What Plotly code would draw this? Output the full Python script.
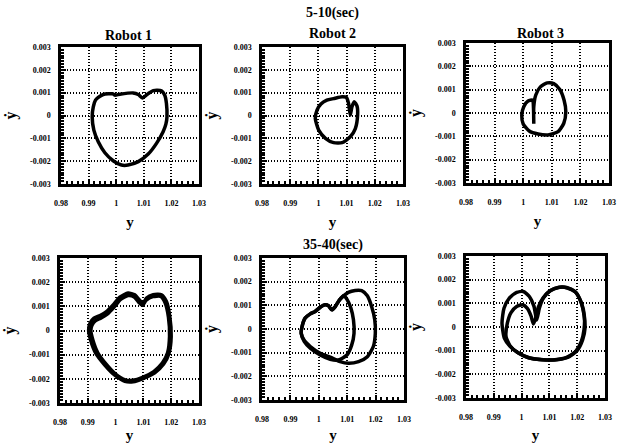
import plotly.graph_objects as go

# ---------------- data ----------------
x_tick_vals = [0.98, 0.99, 1.0, 1.01, 1.02, 1.03]
x_tick_text = ["0.98", "0.99", "1", "1.01", "1.02", "1.03"]
y_tick_vals = [-0.003, -0.002, -0.001, 0.0, 0.001, 0.002, 0.003]
y_tick_text = ["-0.003", "-0.002", "-0.001", "0", "0.001", "0.002", "0.003"]

# Robot 1, 5-10 sec
r1a_x = [0.9935, 0.9953, 0.9989, 0.9995, 1.0013, 1.0061, 1.0080, 1.0095, 1.0116, 1.0134, 1.0164,
         1.0176, 1.0182, 1.0184, 1.0180, 1.0170, 1.0146, 1.0116, 1.0080, 1.0043, 1.0019, 0.9989,
         0.9959, 0.9935, 0.9919, 0.9913, 0.9917, 0.9925, 0.9935]
r1a_y = [0.00079, 0.00092, 0.00095, 0.00089, 0.00093, 0.00099, 0.00092, 0.00077, 0.00096, 0.00109, 0.00108,
         0.00089, 0.00053, -0.00006, -0.00038, -0.00071, -0.00122, -0.00169, -0.00202, -0.00217, -0.00217, -0.00198,
         -0.00163, -0.00115, -0.00064, -0.00006, 0.00038, 0.00067, 0.00079]

# Robot 2, 5-10 sec
r2a_x = [0.9989, 0.9995, 1.0009, 1.0030, 1.0054, 1.0084, 1.0099, 1.0107, 1.0113, 1.0119, 1.0127,
         1.0137, 1.0139, 1.0131, 1.0113, 1.0084, 1.0054, 1.0025, 1.0001, 0.9989]
r2a_y = [-0.00013, 0.00023, 0.00050, 0.00067, 0.00074, 0.00082, 0.00079, 0.00053, 0.00002, 0.00038, 0.00060,
         0.00041, 0.00002, -0.00057, -0.00093, -0.00119, -0.00119, -0.00100, -0.00064, -0.00013]

# Robot 3, 5-10 sec
r3a_x = [1.0037, 1.0037, 1.0044, 1.0060, 1.0084, 1.0107, 1.0128, 1.0143, 1.0149, 1.0142, 1.0122,
         1.0087, 1.0052, 1.0021, 1.0000, 0.9995, 1.0002, 1.0017, 1.0033, 1.0036, 1.0037]
r3a_y = [-0.00044, 0.00027, 0.00077, 0.00112, 0.00129, 0.00126, 0.00101, 0.00055, 0.00006, -0.00044, -0.00080,
         -0.00094, -0.00090, -0.00077, -0.00047, -0.00009, 0.00027, 0.00051, 0.00055, 0.00020, -0.00046]

# Robot 1, 35-40 sec (two cycles)
r1b1_x = [0.9908, 0.9922, 0.9944, 0.9967, 0.9991, 1.0015, 1.0045, 1.0069, 1.0085, 1.0099, 1.0111, 1.0135,
          1.0165, 1.0183, 1.0195, 1.0200, 1.0192, 1.0173, 1.0141, 1.0099, 1.0063, 1.0033, 0.9997, 0.9961,
          0.9929, 0.9910, 0.9903, 0.9908]
r1b1_y = [0.00030, 0.00051, 0.00062, 0.00078, 0.00106, 0.00138, 0.00155, 0.00148, 0.00127, 0.00113, 0.00134, 0.00148,
          0.00148, 0.00120, 0.00058, -0.00025, -0.00095, -0.00139, -0.00175, -0.00199, -0.00212, -0.00210, -0.00185, -0.00143,
          -0.00095, -0.00039, 0.00002, 0.00030]
r1b2_x = [0.9915, 0.9928, 0.9948, 0.9970, 0.9994, 1.0017, 1.0045, 1.0067, 1.0082, 1.0097, 1.0110, 1.0134,
          1.0162, 1.0178, 1.0190, 1.0194, 1.0187, 1.0168, 1.0137, 1.0097, 1.0062, 1.0035, 1.0000, 0.9966,
          0.9936, 0.9918, 0.9911, 0.9915]
r1b2_y = [0.00022, 0.00041, 0.00052, 0.00068, 0.00096, 0.00128, 0.00145, 0.00139, 0.00118, 0.00104, 0.00125, 0.00140,
          0.00141, 0.00115, 0.00056, -0.00024, -0.00092, -0.00135, -0.00170, -0.00194, -0.00206, -0.00204, -0.00180, -0.00139,
          -0.00092, -0.00038, 0.00000, 0.00022]

# Robot 2, 35-40 sec (two cycles)
r2b1_x = [0.9938, 0.9941, 0.9952, 0.9970, 0.9987, 1.0005, 1.0022, 1.0034, 1.0046, 1.0058, 1.0073, 1.0087,
          1.0104, 1.0128, 1.0151, 1.0171, 1.0186, 1.0197, 1.0199, 1.0192, 1.0171, 1.0140, 1.0104, 1.0075,
          1.0040, 1.0005, 0.9970, 0.9949, 0.9938]
r2b1_y = [-0.00018, 0.00010, 0.00046, 0.00064, 0.00074, 0.00092, 0.00102, 0.00098, 0.00081, 0.00095, 0.00123, 0.00140,
          0.00155, 0.00163, 0.00162, 0.00140, 0.00095, 0.00039, -0.00018, -0.00074, -0.00117, -0.00138, -0.00145, -0.00138,
          -0.00119, -0.00103, -0.00074, -0.00049, -0.00018]
r2b2_x = [0.9938, 0.9941, 0.9952, 0.9970, 0.9987, 1.0005, 1.0022, 1.0034, 1.0046, 1.0058, 1.0073, 1.0087,
          1.0099, 1.0113, 1.0122, 1.0124, 1.0116, 1.0099, 1.0069, 1.0040, 1.0005, 0.9970, 0.9949, 0.9938]
r2b2_y = [-0.00018, 0.00010, 0.00046, 0.00064, 0.00074, 0.00092, 0.00102, 0.00098, 0.00081, 0.00095, 0.00123, 0.00140,
          0.00126, 0.00088, 0.00039, -0.00018, -0.00067, -0.00110, -0.00131, -0.00128, -0.00110, -0.00081, -0.00053, -0.00018]

# Robot 3, 35-40 sec (two cycles)
r3b1_x = [0.99379, 0.99295, 0.99367, 0.99559, 0.99823, 1.00062, 1.00278, 1.00446, 1.00542, 1.00638, 1.00782,
          1.01022, 1.01321, 1.01621, 1.01921, 1.02125, 1.02245, 1.02281, 1.02197, 1.02005, 1.01681, 1.01261,
          1.00782, 1.00302, 0.99882, 0.99583, 0.99379]
r3b1_y = [-0.00047, 0.00016, 0.00079, 0.00122, 0.00146, 0.00150, 0.00129, 0.00087, 0.00030, 0.00079, 0.00122,
          0.00153, 0.00167, 0.00167, 0.00150, 0.00108, 0.00051, -0.00005, -0.00054, -0.00099, -0.00127, -0.00138,
          -0.00138, -0.00131, -0.00110, -0.00082, -0.00047]
r3b2_x = [0.99439, 0.99487, 0.99619, 0.99823, 1.00038, 1.00206, 1.00338, 1.00422, 1.00494, 1.00602, 1.00782,
          1.01046, 1.01357, 1.01645, 1.01945, 1.02149, 1.02257, 1.02245, 1.02149, 1.01945, 1.01621, 1.01201,
          1.00722, 1.00242, 0.99847, 0.99583, 0.99439]
r3b2_y = [-0.00040, 0.00016, 0.00061, 0.00087, 0.00094, 0.00079, 0.00047, 0.00013, 0.00033, 0.00084, 0.00124,
          0.00154, 0.00168, 0.00165, 0.00147, 0.00103, 0.00047, -0.00012, -0.00061, -0.00103, -0.00128, -0.00138,
          -0.00138, -0.00130, -0.00107, -0.00079, -0.00040]

panel_titles = ["Robot 1", "Robot 2", "Robot 3"]
period_titles = ["5-10(sec)", "35-40(sec)"]

# ---------------- figure ----------------
W, H = 620, 443
# pixel boxes (left, right, top, bottom)
boxes = [(61, 199, 47, 184), (262, 403, 47, 184), (466, 609, 43, 183),
         (60, 199, 258, 403), (262, 404, 258, 400), (466, 605, 256, 398)]

panels = [
    [(r1a_x, r1a_y)],
    [(r2a_x, r2a_y)],
    [(r3a_x, r3a_y)],
    [(r1b1_x, r1b1_y), (r1b2_x, r1b2_y)],
    [(r2b1_x, r2b1_y), (r2b2_x, r2b2_y)],
    [(r3b1_x, r3b1_y), (r3b2_x, r3b2_y)],
]

FONT = "Liberation Serif"
fig = go.Figure()
layout = dict(
    width=W, height=H, margin=dict(l=0, r=0, t=0, b=0, autoexpand=False),
    paper_bgcolor="white", plot_bgcolor="white", showlegend=False,
    font=dict(family=FONT, color="black"),
)

for i, (box, curves) in enumerate(zip(boxes, panels)):
    n = i + 1
    xa = "x" if n == 1 else f"x{n}"
    ya = "y" if n == 1 else f"y{n}"
    for cx, cy in curves:
        fig.add_trace(go.Scatter(x=cx, y=cy, mode="lines", xaxis=xa, yaxis=ya,
                                 line=dict(color="black", width=3.5, shape="spline", smoothing=0.6),
                                 hoverinfo="skip"))
    l, r, t, b = box
    common = dict(showline=True, mirror=True, linecolor="black", linewidth=2.5,
                  showgrid=True, gridcolor="black", griddash="1px,2px", gridwidth=1.5,
                  zeroline=False, ticks="inside", ticklen=5, tickwidth=2, tickcolor="black",
                  automargin=False,
                  tickfont=dict(family=FONT, size=8, weight="bold", color="black"))
    layout["xaxis" if n == 1 else f"xaxis{n}"] = dict(
        common, domain=[l / W, r / W], anchor=ya, range=[0.98, 1.03],
        tickvals=x_tick_vals, ticktext=x_tick_text, ticklabelstandoff=10,
        minor=dict(dtick=0.002, ticks="inside", ticklen=3, tickcolor="black", tickwidth=1.5, showgrid=False),
        title=dict(text="y", font=dict(family=FONT, size=15, weight="bold", color="black"), standoff=10))
    layout["yaxis" if n == 1 else f"yaxis{n}"] = dict(
        common, domain=[1 - b / H, 1 - t / H], anchor=xa, range=[-0.003, 0.003],
        tickvals=y_tick_vals, ticktext=y_tick_text, ticklabelstandoff=6,
        minor=dict(dtick=0.000125, ticks="inside", ticklen=3, tickcolor="black", tickwidth=1.5, showgrid=False),
        title=dict(text="ẏ", font=dict(family=FONT, size=16, weight="bold", color="black"), standoff=10))

ann = []
title_pos = [(128, 35), (332, 33), (540, 33)]
for txt, (px, py) in zip(panel_titles, title_pos):
    ann.append(dict(text=txt, x=px / W, y=1 - py / H, xref="paper", yref="paper",
                    xanchor="center", yanchor="middle",
                    showarrow=False, font=dict(family=FONT, size=14, weight="bold", color="black")))
for txt, (px, py) in zip(period_titles, [(332, 13), (333, 245)]):
    ann.append(dict(text=txt, x=px / W, y=1 - py / H, xref="paper", yref="paper",
                    xanchor="center", yanchor="middle",
                    showarrow=False, font=dict(family=FONT, size=14, weight="bold", color="black")))
layout["annotations"] = ann

fig.update_layout(**layout)
fig.write_html("out.html", config={"displayModeBar": False},
               post_script="document.body.style.margin='0px';document.body.style.overflow='hidden';")
